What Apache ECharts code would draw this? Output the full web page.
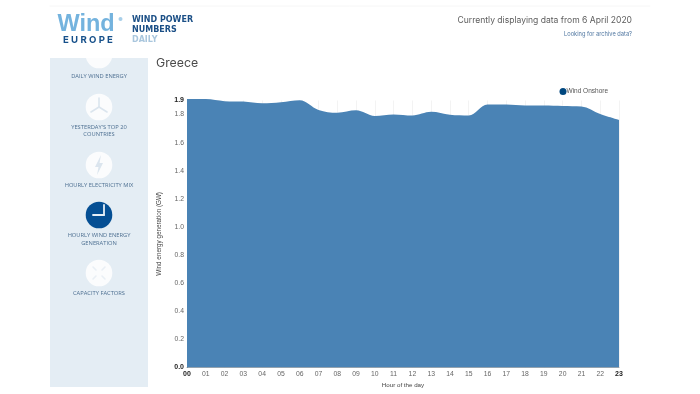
<!DOCTYPE html>
<html><head><meta charset="utf-8">
<style>html,body{margin:0;padding:0;background:#fff}#c{width:700px;height:394px}</style>
<script src="https://cdn.jsdelivr.net/npm/echarts@6/dist/echarts.min.js"></script>
</head><body><div id="c"></div>
<script>
const hours = ['00','01','02','03','04','05','06','07','08','09','10','11','12','13','14','15','16','17','18','19','20','21','22','23'];
const windOnshore = [1.91,1.91,1.895,1.892,1.88,1.887,1.902,1.833,1.813,1.83,1.79,1.801,1.793,1.819,1.798,1.793,1.871,1.871,1.864,1.864,1.861,1.857,1.803,1.761];
const seriesName = 'Wind Onshore';
const sideLabels = ['DAILY WIND ENERGY',"YESTERDAY'S TOP 20",'COUNTRIES','HOURLY ELECTRICITY MIX','HOURLY WIND ENERGY','GENERATION','CAPACITY FACTORS'];

const AX = '"Liberation Sans",Arial,sans-serif';
const SIDE = '"Open Sans",sans-serif';
const HEAD = 'Inter,"Noto Sans",sans-serif';
const WIDE = '"DejaVu Sans",sans-serif';
const ICON = '#dbe5ee';
const txt = (x,y,text,size,fill,font,extra) => ({type:'text',x,y,silent:true,style:Object.assign({text,fontSize:size,fill,fontFamily:font,textVerticalAlign:'middle'},extra||{})});
const circ = (cx,cy,r,fill) => ({type:'circle',shape:{cx,cy,r},silent:true,style:{fill}});
const ln = (x1,y1,x2,y2,stroke,w) => ({type:'line',shape:{x1,y1,x2,y2},silent:true,style:{stroke,lineWidth:w,lineCap:'round'}});
const mid = {textAlign:'center'};
const side = (y,t) => txt(99,y,t,5.75,'#4d6f91',SIDE,mid);

const graphic = [
  {type:'rect',shape:{x:50,y:58,width:98,height:329},silent:true,style:{fill:'#e4edf4'}},
  circ(99,55,13.3,'#fbfcfd'),
  {type:'rect',shape:{x:45,y:40,width:110,height:18},silent:true,style:{fill:'#fff'}},
  ln(50,6,650,6,'#f6f6f6',1),
  // logo
  txt(57.5,25,'Wind',23.5,'#74b3de','"Liberation Sans",sans-serif',{fontWeight:'bold'}),
  circ(120.5,19,2,'#a8cfe9'),
  txt(63,40,'E U R O P E',9.6,'#16508a',HEAD,{fontWeight:'bold'}),
  txt(132,20,'WIND POWER',8,'#1b4f86',WIDE,{fontWeight:'bold'}),
  txt(132,29.5,'NUMBERS',8,'#1b4f86',WIDE,{fontWeight:'bold'}),
  txt(132,40,'DAILY',8,'#a9c6dd',WIDE,{fontWeight:'bold'}),
  // header right
  txt(632,20.5,'Currently displaying data from 6 April 2020',8.55,'#5c5c5c',HEAD,{textAlign:'right'}),
  txt(632,34,'Looking for archive data?',5.7,'#4f76a0',HEAD,{textAlign:'right'}),
  txt(156,63.5,'Greece',12.3,'#4a4a4a',HEAD),
  // side nav
  side(76,sideLabels[0]),
  circ(99,107,13.3,'#fbfcfd'),
  ln(99,107,99,98,ICON,1.6), ln(99,107,91,112,ICON,1.6), ln(99,107,107,112,ICON,1.6),
  side(127,sideLabels[1]), side(134.5,sideLabels[2]),
  circ(99,165,13.3,'#fbfcfd'),
  {type:'polygon',shape:{points:[[101,155],[95,167],[98.5,167],[97,175],[103,163],[99.5,163]]},silent:true,style:{fill:ICON}},
  side(185,sideLabels[3]),
  circ(99,215,13.3,'#054f94'),
  ln(104,205,104,215,'#e6eff7',1.8), ln(104,215,93,215,'#e6eff7',1.8),
  side(235.5,sideLabels[4]), side(243,sideLabels[5]),
  circ(99,273,13.3,'#fbfcfd'),
  ln(93,267,96,270,'#e9eff5',1.6), ln(105,267,102,270,'#e9eff5',1.6), ln(93,279,96,276,'#e9eff5',1.6), ln(105,279,102,276,'#e9eff5',1.6),
  side(293,sideLabels[6])
];

const boldFirstLast = (text,isEdge) => isEdge ? '{b|'+text+'}' : text;
const rich = {b:{fontWeight:'bold',fontSize:7,color:'#222',fontFamily:AX}};

const chart = echarts.init(document.getElementById('c'),null,{renderer:'canvas'});
chart.setOption({
  animation:false,
  backgroundColor:'#fff',
  textStyle:{fontFamily:AX},
  graphic:{elements:graphic},
  legend:{show:true,left:559.5,top:88,itemWidth:7,itemHeight:7,itemGap:4,icon:'circle',padding:0,
    textStyle:{fontSize:6.5,color:'#555',fontFamily:AX,padding:[0,0,0,-5]},
    data:[{name:seriesName,itemStyle:{color:'#00477f'}}]},
  grid:{left:187,right:81,top:100.5,bottom:26.7,containLabel:false},
  xAxis:{type:'category',data:hours,boundaryGap:false,
    name:'Hour of the day',nameLocation:'middle',nameGap:14,nameTextStyle:{fontSize:6.2,color:'#444',fontFamily:AX},
    axisLine:{show:true,lineStyle:{color:'#777',width:0.6}},axisTick:{show:false},
    axisLabel:{interval:0,fontSize:6.8,color:'#666',margin:3,fontFamily:AX,
      formatter:(v,i)=>boldFirstLast(v,i===0||i===hours.length-1),rich},
    splitLine:{show:true,lineStyle:{color:'#f3f3f3',width:1}}},
  yAxis:{type:'value',min:0,max:1.9,interval:0.2,
    name:'Wind energy generation (GW)',nameLocation:'middle',nameGap:25,nameRotate:90,nameTextStyle:{fontSize:6.3,color:'#444',fontFamily:AX},
    axisLine:{show:true,lineStyle:{color:'#5d7f9d',width:1}},axisTick:{show:false},
    axisLabel:{showMaxLabel:true,showMinLabel:true,hideOverlap:false,fontSize:6.8,color:'#666',margin:3,fontFamily:AX,
      formatter:v=>boldFirstLast(v.toFixed(1),v===0||v===1.9),rich},
    splitLine:{show:false}},
  series:[{name:seriesName,type:'line',data:windOnshore,smooth:0.35,showSymbol:false,clip:false,
    itemStyle:{color:'#00477f'},lineStyle:{width:0},
    areaStyle:{color:'#4a83b5',opacity:1}}]
});
</script></body></html>
